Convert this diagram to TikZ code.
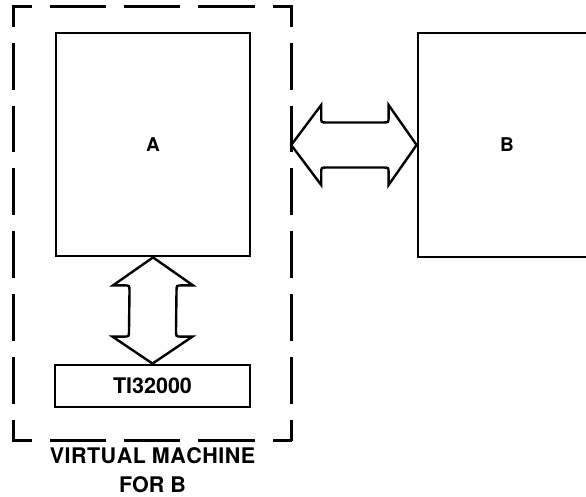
\documentclass[tikz,border=0pt]{standalone}
\usepackage{fontspec}
\setmainfont{TeX Gyre Heros}
\usetikzlibrary{calc}
\begin{document}
\begin{tikzpicture}[x=1pt,y=-1pt,
  box/.style={draw, line width=2.8pt, rectangle, inner sep=0pt},
  lbl/.style={font=\bfseries\fontsize{19}{21}\selectfont},
  arr/.style={draw, line width=2.4pt, line join=miter},
  vmh/.style={line width=3.2pt, line cap=rect, dash pattern=on 16.4pt off 21.2pt on 53.1pt off 21.2pt on 53.1pt off 21.2pt on 53.1pt off 21.2pt on 16.4pt off 400pt},
  vmv/.style={line width=3.2pt, line cap=rect, dash pattern=on 18.4pt off 19.2pt on 43.6pt off 19.2pt on 43.6pt off 19.2pt on 43.6pt off 19.2pt on 43.6pt off 19.2pt on 43.6pt off 19.2pt on 43.6pt off 19.2pt on 18.4pt off 600pt},
  big/.style={font=\bfseries\fontsize{21.5}{30}\selectfont},
  vmtext/.style={font=\bfseries\fontsize{21.5}{29}\selectfont}
]
\useasboundingbox (0,0) rectangle (586,497);
\clip (0,0) rectangle (586,497);

\node[box, lbl, minimum width=194pt, minimum height=223pt] (A) at (153,144.5) {A};
\node[box, lbl, minimum width=178pt, minimum height=224pt] (B) at (507,145) {B};
\node[box, big, minimum width=195pt, minimum height=42pt] (TI) at (152.5,386) {TI32000};
\node[minimum width=277pt, minimum height=433pt, inner sep=0pt] (vm) at (152.5,223.5) {};
\node[vmtext, align=center, inner sep=0pt] (vml) at (152.5,470.5) {V\kern0.5pt I\kern0.5pt R\kern0.5pt T\kern0.5pt U\kern0.5pt A\kern0.5pt L M\kern0.5pt A\kern0.5pt C\kern0.5pt H\kern0.5pt I\kern0.5pt N\kern0.5pt E\\FOR B};

\draw[vmh] (vm.north west) -- (vm.north east);
\draw[vmh] (vm.south west) -- (vm.south east);
\draw[vmv] (vm.north west) -- (vm.south west);
\draw[vmv] (vm.north east) -- (vm.south east);

% horizontal double arrow
\coordinate (hl) at (vm.east |- B.west);
\coordinate (hr) at (B.west);
\draw[arr] (hl) -- ($(hl)+(30,-40)$) -- ($(hl)+(30,-28)$)
  .. controls ($(hl)+(30,-22.5)$) .. ($(hl)+(36,-22.5)$)
  -- ($(hr)+(-34,-22.5)$) .. controls ($(hr)+(-28,-22.5)$) .. ($(hr)+(-28,-28)$)
  -- ($(hr)+(-28,-40)$) -- (hr) -- ($(hr)+(-28,40)$) -- ($(hr)+(-28,28)$)
  .. controls ($(hr)+(-28,22.5)$) .. ($(hr)+(-34,22.5)$)
  -- ($(hl)+(36,22.5)$) .. controls ($(hl)+(30,22.5)$) .. ($(hl)+(30,28)$)
  -- ($(hl)+(30,40)$) -- cycle;

% vertical double arrow
\coordinate (vt) at (A.south);
\coordinate (vb) at (TI.north);
\draw[arr] (vt) -- ($(vt)+(40,28)$) -- ($(vt)+(29,28)$)
  .. controls ($(vt)+(23.5,28)$) .. ($(vt)+(23.5,34)$)
  -- ($(vb)+(23.5,-33)$) .. controls ($(vb)+(23.5,-27)$) .. ($(vb)+(29,-27)$)
  -- ($(vb)+(40,-27)$) -- (vb) -- ($(vb)+(-40,-27)$) -- ($(vb)+(-29,-27)$)
  .. controls ($(vb)+(-23.5,-27)$) .. ($(vb)+(-23.5,-33)$)
  -- ($(vt)+(-23.5,34)$) .. controls ($(vt)+(-23.5,28)$) .. ($(vt)+(-29,28)$)
  -- ($(vt)+(-40,28)$) -- cycle;
\end{tikzpicture}
\end{document}
